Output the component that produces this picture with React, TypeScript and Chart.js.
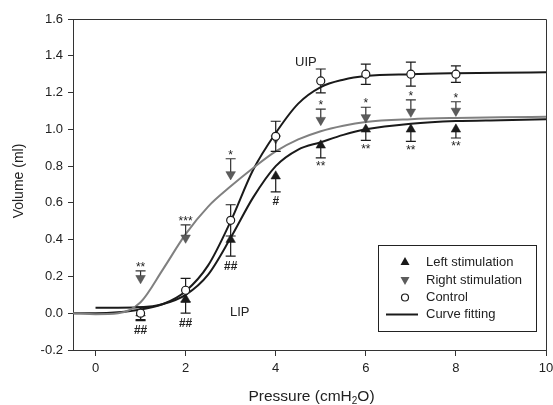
import React, { useEffect, useRef } from "react";
import { Chart, registerables } from "chart.js";

Chart.register(...registerables);

// ---- data ----
const pressures = [1, 2, 3, 4, 5, 6, 7, 8];
const leftValues = [0.0, 0.076, 0.4, 0.745, 0.913, 1.0, 1.0, 1.0];
const leftErr = [0.04, 0.076, 0.09, 0.085, 0.068, 0.06, 0.065, 0.047];
const rightValues = [0.19, 0.41, 0.755, 0.95, 1.05, 1.065, 1.095, 1.1];
const rightErr = [0.04, 0.07, 0.085, 0.0, 0.06, 0.055, 0.065, 0.05];
const controlValues = [0.0, 0.125, 0.505, 0.962, 1.263, 1.3, 1.3, 1.3];
const controlErr = [0.035, 0.065, 0.085, 0.082, 0.065, 0.055, 0.065, 0.045];
const rightLabels = ["**", "***", "*", "", "*", "*", "*", "*"];
const leftLabels = ["##", "##", "##", "#", "**", "**", "**", "**"];

const fitPressures = [-0.5, 0, 0.5, 1, 1.5, 2, 2.5, 3, 3.5, 4, 4.5, 5, 5.5, 6, 7, 8, 9, 10];
const controlFit = [0.0, 0.0, 0.005, 0.02, 0.05, 0.12, 0.26, 0.5, 0.78, 0.98, 1.14, 1.23, 1.27, 1.29, 1.3, 1.305, 1.308, 1.31];
const leftFitPressures = [0, 0.5, 1, 1.5, 2, 2.5, 3, 3.5, 4, 4.5, 5, 5.5, 6, 7, 8, 9, 10];
const leftFit = [0.03, 0.03, 0.032, 0.05, 0.1, 0.21, 0.41, 0.63, 0.8, 0.89, 0.93, 0.97, 1.0, 1.03, 1.045, 1.05, 1.055];
const rightFit = [0.0, -0.005, 0.0, 0.06, 0.24, 0.43, 0.58, 0.69, 0.79, 0.88, 0.945, 0.99, 1.02, 1.04, 1.055, 1.062, 1.066, 1.068];

const xTicks = [0, 2, 4, 6, 8, 10];
const legendNames = ["Left stimulation", "Right stimulation", "Control", "Curve fitting"];
const annotations = [
  { text: "UIP", x: 4.67, y: 1.364 },
  { text: "LIP", x: 3.2, y: 0.005 },
];

const FONT = "'Liberation Sans', Arial, sans-serif";
const BLACK = "#1a1a1a";
const GRAY = "#808080";
const RIGHT_FILL = "#5c5c5c";

const pts = (xs: number[], ys: number[]) => xs.map((x, i) => ({ x, y: ys[i] }));

export default function App() {
  const ref = useRef<HTMLCanvasElement | null>(null);
  useEffect(() => {
    document.body.style.margin = "0";
    const canvas = ref.current!;

    const errSets: Record<number, { err: number[]; vals: number[]; dir: "up" | "down" | "both"; color: string }> = {
      0: { err: controlErr, vals: controlValues, dir: "both", color: BLACK },
      1: { err: leftErr, vals: leftValues, dir: "down", color: BLACK },
      2: { err: rightErr, vals: rightValues, dir: "up", color: "#333" },
    };

    const plugin = {
      id: "custom",
      beforeDatasetDraw(chart: any, args: any) {
        const es = errSets[args.index];
        if (!es) return;
        const { ctx } = chart;
        const xs = chart.scales.x, ys = chart.scales.y;
        ctx.save();
        ctx.strokeStyle = es.color;
        ctx.lineWidth = 1.2;
        pressures.forEach((p, i) => {
          if (!es.err[i]) return;
          const px = xs.getPixelForValue(p);
          const py = ys.getPixelForValue(es.vals[i]);
          const ends: number[] = [];
          if (es.dir !== "down") ends.push(ys.getPixelForValue(es.vals[i] + es.err[i]));
          if (es.dir !== "up") ends.push(ys.getPixelForValue(es.vals[i] - es.err[i]));
          ends.forEach((e) => {
            ctx.beginPath();
            ctx.moveTo(px, py);
            ctx.lineTo(px, e);
            ctx.moveTo(px - 5, e);
            ctx.lineTo(px + 5, e);
            ctx.stroke();
          });
        });
        ctx.restore();
      },
      afterDraw(chart: any) {
        const { ctx, chartArea: a } = chart;
        const xs = chart.scales.x, ys = chart.scales.y;
        ctx.save();
        // frame top/right
        ctx.strokeStyle = "#333";
        ctx.lineWidth = 1;
        ctx.beginPath();
        ctx.moveTo(a.left, a.top + 0.5);
        ctx.lineTo(a.right + 0.5, a.top + 0.5);
        ctx.lineTo(a.right + 0.5, a.bottom);
        ctx.stroke();

        // significance labels
        ctx.fillStyle = "#222";
        ctx.textAlign = "center";
        pressures.forEach((p, i) => {
          const px = xs.getPixelForValue(p);
          if (rightLabels[i]) {
            const top = ys.getPixelForValue(rightValues[i] + rightErr[i]);
            ctx.font = `12px ${FONT}`;
            ctx.textBaseline = "alphabetic";
            ctx.fillText(rightLabels[i], px, top);
          }
          if (leftLabels[i]) {
            const bottom = ys.getPixelForValue(leftValues[i] - leftErr[i]);
            ctx.textBaseline = "top";
            if (leftLabels[i].startsWith("#")) {
              ctx.font = `bold 12px ${FONT}`;
              ctx.fillText(leftLabels[i], px, bottom + 4);
            } else {
              ctx.font = `12px ${FONT}`;
              ctx.fillText(leftLabels[i], px, bottom + 3);
            }
          }
        });

        // UIP / LIP
        ctx.font = `13px ${FONT}`;
        ctx.textBaseline = "middle";
        annotations.forEach((an) => {
          ctx.fillText(an.text, xs.getPixelForValue(an.x), ys.getPixelForValue(an.y));
        });

        // x title with subscript
        ctx.textBaseline = "alphabetic";
        ctx.textAlign = "left";
        const p1 = "Pressure (cmH";
        const p2 = "2";
        const p3 = "O)";
        const big = `15.5px ${FONT}`;
        const small = `10px ${FONT}`;
        ctx.font = big;
        const w1 = ctx.measureText(p1).width;
        const w3 = ctx.measureText(p3).width;
        ctx.font = small;
        const w2 = ctx.measureText(p2).width;
        const total = w1 + w2 + w3;
        let tx = 311.5 - total / 2;
        const ty = 401;
        ctx.font = big;
        ctx.fillText(p1, tx, ty);
        tx += w1;
        ctx.font = small;
        ctx.fillText(p2, tx, ty + 3);
        tx += w2;
        ctx.font = big;
        ctx.fillText(p3, tx, ty);

        // y title
        ctx.save();
        ctx.translate(19, 181);
        ctx.rotate(-Math.PI / 2);
        ctx.textAlign = "center";
        ctx.textBaseline = "middle";
        ctx.font = `14px ${FONT}`;
        ctx.fillText("Volume (ml)", 0, 0);
        ctx.restore();

        // legend
        const lx = 378, ly = 245, lw = 158, lh = 86;
        ctx.strokeStyle = "#222";
        ctx.lineWidth = 1;
        ctx.fillStyle = "#fff";
        ctx.fillRect(lx, ly, lw, lh);
        ctx.strokeRect(lx + 0.5, ly + 0.5, lw, lh);
        const rows = [262, 280, 297.5, 314.5];
        const sx = 405;
        ctx.font = `13px ${FONT}`;
        ctx.textAlign = "left";
        ctx.textBaseline = "middle";
        legendNames.forEach((name, i) => {
          const y = rows[i];
          ctx.fillStyle = "#222";
          ctx.fillText(name, 426, y);
          ctx.beginPath();
          if (i === 0) {
            ctx.fillStyle = BLACK;
            ctx.moveTo(sx, y - 5);
            ctx.lineTo(sx + 4.5, y + 3);
            ctx.lineTo(sx - 4.5, y + 3);
            ctx.closePath();
            ctx.fill();
          } else if (i === 1) {
            ctx.fillStyle = RIGHT_FILL;
            ctx.moveTo(sx, y + 5);
            ctx.lineTo(sx + 4.5, y - 3);
            ctx.lineTo(sx - 4.5, y - 3);
            ctx.closePath();
            ctx.fill();
          } else if (i === 2) {
            ctx.strokeStyle = BLACK;
            ctx.lineWidth = 1.2;
            ctx.arc(sx, y, 3.5, 0, Math.PI * 2);
            ctx.stroke();
          } else {
            ctx.strokeStyle = BLACK;
            ctx.lineWidth = 2;
            ctx.moveTo(386, y);
            ctx.lineTo(418, y);
            ctx.stroke();
          }
        });
        ctx.restore();
      },
    };

    const chart = new Chart(canvas, {
      type: "scatter",
      data: {
        datasets: [
          {
            label: "Control",
            data: pts(pressures, controlValues),
            pointStyle: "circle",
            pointRadius: 4,
            pointBackgroundColor: "#fff",
            pointBorderColor: BLACK,
            pointBorderWidth: 1.2,
            showLine: false,
            order: 0,
          },
          {
            label: "Left stimulation",
            data: pts(pressures, leftValues),
            pointStyle: "triangle",
            pointRadius: 5.5,
            pointBackgroundColor: BLACK,
            pointBorderColor: BLACK,
            pointBorderWidth: 0.5,
            showLine: false,
            order: 1,
          },
          {
            label: "Right stimulation",
            data: pts(pressures, rightValues),
            pointStyle: "triangle",
            rotation: 180,
            pointRadius: 5.5,
            pointBackgroundColor: RIGHT_FILL,
            pointBorderColor: "#444",
            pointBorderWidth: 0.5,
            showLine: false,
            order: 1,
          },
          {
            label: "Control fit",
            data: pts(fitPressures, controlFit),
            showLine: true,
            borderColor: BLACK,
            borderWidth: 2,
            pointRadius: 0,
            cubicInterpolationMode: "monotone",
            order: 3,
          },
          {
            label: "Left fit",
            data: pts(leftFitPressures, leftFit),
            showLine: true,
            borderColor: BLACK,
            borderWidth: 2,
            pointRadius: 0,
            cubicInterpolationMode: "monotone",
            order: 3,
          },
          {
            label: "Right fit",
            data: pts(fitPressures, rightFit),
            showLine: true,
            borderColor: GRAY,
            borderWidth: 2,
            pointRadius: 0,
            cubicInterpolationMode: "monotone",
            order: 2,
          },
        ],
      },
      options: {
        animation: false,
        responsive: false,
        maintainAspectRatio: false,
        layout: { padding: { left: 0, top: 19, right: 7, bottom: 0 } },
        plugins: { legend: { display: false }, tooltip: { enabled: false } },
        scales: {
          x: {
            type: "linear",
            min: -0.5,
            max: 10,
            afterBuildTicks: (s: any) => {
              s.ticks = xTicks.map((v) => ({ value: v }));
            },
            afterFit: (s: any) => {
              s.height = 55;
              s.paddingRight = 0;
              s.paddingLeft = 0;
            },
            grid: { display: true, drawOnChartArea: false, drawTicks: true, tickLength: 6, color: "#333", lineWidth: 1 },
            border: { display: true, color: "#333", width: 1 },
            ticks: { color: "#222", font: { family: FONT, size: 13 }, padding: 5, autoSkip: false, maxRotation: 0 },
          },
          y: {
            type: "linear",
            min: -0.2,
            max: 1.6,
            afterFit: (s: any) => {
              s.width = 73;
              s.paddingTop = 0;
              s.paddingBottom = 0;
            },
            grid: { display: true, drawOnChartArea: false, drawTicks: true, tickLength: 5, color: "#333", lineWidth: 1 },
            border: { display: true, color: "#333", width: 1 },
            ticks: {
              stepSize: 0.2,
              color: "#222",
              font: { family: FONT, size: 13 },
              padding: 5,
              callback: (v: any) => Number(v).toFixed(1),
            },
          },
        },
      },
      plugins: [plugin],
    } as any);
    return () => chart.destroy();
  }, []);

  return (
    <div style={{ width: 553, height: 405, position: "relative", background: "#fff" }}>
      <canvas ref={ref} width={553} height={405} style={{ display: "block" }} />
    </div>
  );
}
